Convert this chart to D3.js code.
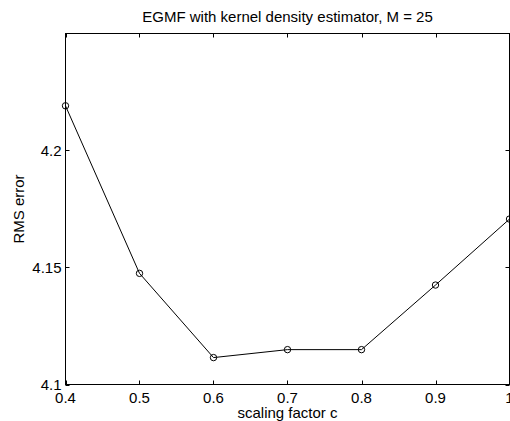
<!DOCTYPE html>
<html>
<head>
<meta charset="utf-8">
<script src="https://cdn.jsdelivr.net/npm/d3@7"></script>
<style>
  html, body { margin: 0; padding: 0; background: #fff; }
  svg text { font-family: "Liberation Sans", Arial, Helvetica, sans-serif; fill: #000; }
</style>
</head>
<body>
<div id="chart"></div>
<script>
// RMS error vs scaling factor c

const scaleFactors = [0.4, 0.5, 0.6, 0.7, 0.8, 0.9, 1.0];
const rmsErrors = [4.2191, 4.1475, 4.1115, 4.1149, 4.1149, 4.1425, 4.1707];
const xTicks = [0.4, 0.5, 0.6, 0.7, 0.8, 0.9, 1];
const yTicks = [4.1, 4.15, 4.2];

const W = 510, H = 421;
const axL = 65.5, axR = 509.5, axT = 33.5, axB = 384.5;

const svg = d3.select("#chart").append("svg")
  .attr("width", W)
  .attr("height", H);

const x = d3.scaleLinear().domain([0.4, 1.0]).range([axL, axR]);
const y = d3.scaleLinear().domain([4.1, 4.25]).range([axB, axT]);

const fs = 15;
const tick = 4;

// box
svg.append("rect")
  .attr("x", axL).attr("y", axT)
  .attr("width", axR - axL).attr("height", axB - axT)
  .attr("fill", "none").attr("stroke", "#000").attr("stroke-width", 1);

// x ticks (bottom + top, pointing inward)
const xg = svg.append("g");
xTicks.forEach(t => {
  const px = Math.round(x(t)) + 0.5;
  xg.append("line").attr("x1", px).attr("x2", px).attr("y1", axB).attr("y2", axB - tick).attr("stroke", "#000");
  xg.append("line").attr("x1", px).attr("x2", px).attr("y1", axT).attr("y2", axT + tick).attr("stroke", "#000");
  xg.append("text")
    .attr("x", x(t))
    .attr("y", axB + 18.5)
    .attr("text-anchor", "middle")
    .style("font-size", fs + "px")
    .text(d3.format("")(t));
});

// y ticks (left + right)
const yg = svg.append("g");
yTicks.forEach(t => {
  const py = Math.round(y(t)) + 0.5;
  yg.append("line").attr("x1", axL).attr("x2", axL + tick).attr("y1", py).attr("y2", py).attr("stroke", "#000");
  yg.append("line").attr("x1", axR).attr("x2", axR - tick).attr("y1", py).attr("y2", py).attr("stroke", "#000");
  yg.append("text")
    .attr("x", axL - 4)
    .attr("y", y(t) + 5.5)
    .attr("text-anchor", "end")
    .style("font-size", fs + "px")
    .text(t);
});

const data = scaleFactors.map((c, i) => ({ c, v: rmsErrors[i] }));

// line
svg.append("path")
  .datum(data)
  .attr("fill", "none")
  .attr("stroke", "#000")
  .attr("stroke-width", 1)
  .attr("d", d3.line().x(d => x(d.c)).y(d => y(d.v)));

// markers
svg.selectAll(".pt")
  .data(data)
  .enter().append("circle")
  .attr("class", "pt")
  .attr("cx", d => x(d.c))
  .attr("cy", d => y(d.v))
  .attr("r", 3.2)
  .attr("fill", "none")
  .attr("stroke", "#000")
  .attr("stroke-width", 1);

// title
svg.append("text")
  .attr("x", (axL + axR) / 2)
  .attr("y", 22)
  .attr("text-anchor", "middle")
  .style("font-size", fs + "px")
  .text("EGMF with kernel density estimator, M = 25");

// x label
svg.append("text")
  .attr("x", (axL + axR) / 2)
  .attr("y", 418)
  .attr("text-anchor", "middle")
  .style("font-size", fs + "px")
  .text("scaling factor c");

// y label
svg.append("text")
  .attr("transform", `translate(24,${(axT + axB) / 2}) rotate(-90)`)
  .attr("text-anchor", "middle")
  .style("font-size", fs + "px")
  .text("RMS error");
</script>
</body>
</html>
